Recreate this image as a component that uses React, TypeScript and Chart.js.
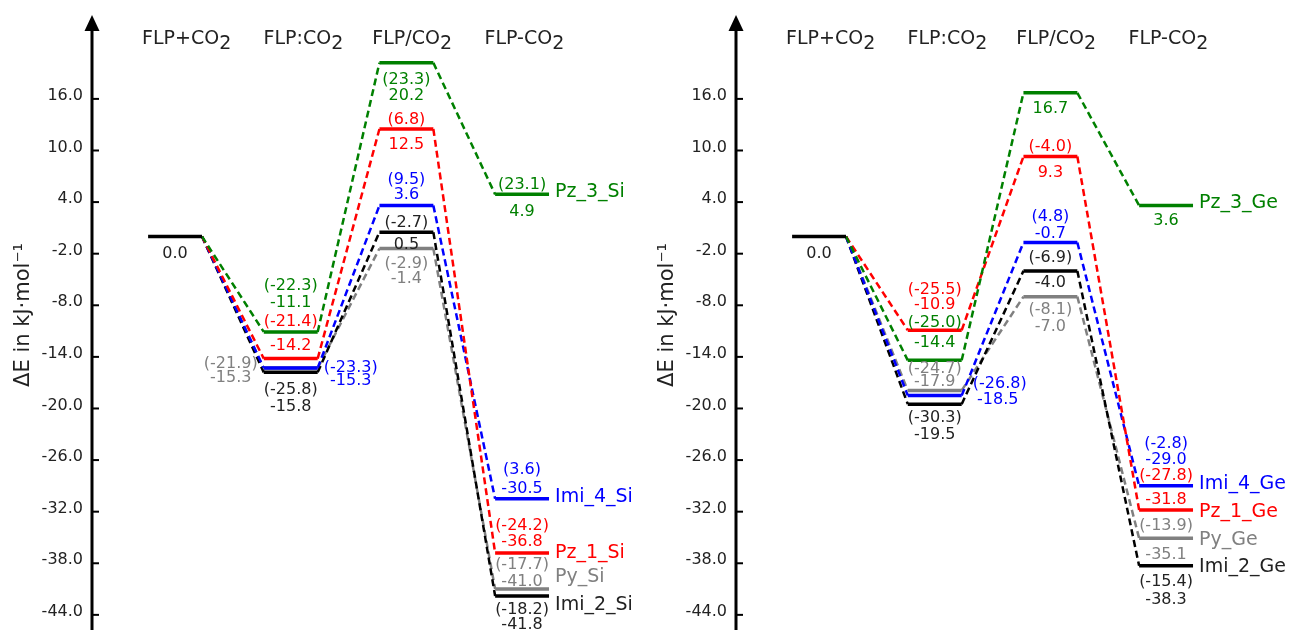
import { useEffect, useRef } from 'react';
import { Chart, registerables } from 'chart.js';

Chart.register(...registerables);

// ---------- data ----------
const stages = ['FLP+CO2', 'FLP:CO2', 'FLP/CO2', 'FLP-CO2'];
const yTickValues = [16, 10, 4, -2, -8, -14, -20, -26, -32, -38, -44];
const yAxisTitle = 'ΔE in kJ·mol⁻¹';

// Si panel
const siNames = ['Pz_3_Si', 'Pz_1_Si', 'Imi_4_Si', 'Imi_2_Si', 'Py_Si'];
const siPz3 = [0, -11.1, 20.2, 4.9];
const siPz3Paren = [null, -22.3, 23.3, 23.1];
const siPz1 = [0, -14.2, 12.5, -36.8];
const siPz1Paren = [null, -21.4, 6.8, -24.2];
const siImi4 = [0, -15.3, 3.6, -30.5];
const siImi4Paren = [null, -23.3, 9.5, 3.6];
const siImi2 = [0, -15.8, 0.5, -41.8];
const siImi2Paren = [null, -25.8, -2.7, -18.2];
const siPy = [0, -15.3, -1.4, -41.0];
const siPyParen = [null, -21.9, -2.9, -17.7];

// Ge panel
const geNames = ['Pz_3_Ge', 'Pz_1_Ge', 'Imi_4_Ge', 'Imi_2_Ge', 'Py_Ge'];
const gePz3 = [0, -14.4, 16.7, 3.6];
const gePz3Paren = [null, -25.0, null, null];
const gePz1 = [0, -10.9, 9.3, -31.8];
const gePz1Paren = [null, -25.5, -4.0, -27.8];
const geImi4 = [0, -18.5, -0.7, -29.0];
const geImi4Paren = [null, -26.8, 4.8, -2.8];
const geImi2 = [0, -19.5, -4.0, -38.3];
const geImi2Paren = [null, -30.3, -6.9, -15.4];
const gePy = [0, -17.9, -7.0, -35.1];
const gePyParen = [null, -24.7, -8.1, -13.9];

// ---------- styles / layout ----------
const seriesColors = ['#008000', '#ff0000', '#0000ff', '#000000', '#808080'];
const FONT = '"DejaVu Sans", sans-serif';
const TEXT = '#222';
const HW = 0.233; // half width of a level, in stage units
const X_MIN = 0.282;
const X_MAX = 5.08;
const Y_MIN = -45.76;
const Y_MAX = 27.5;
const headerPos = [1.1, 2.11, 3.05, 4.02];

// label offsets per series, per stage 2..4: [parenDx, parenDy, valueDx, valueDy] (px)
const siOffsets = [
  [[0, -46, 0, -29], [0, 17, 0, 33], [0, -10, 0, 17]],
  [[0, -37, 0, -13], [0, -9, 0, 16], [0, -27, 0, -11]],
  [[60, 0, 60, 13], [0, -25.5, 0, -10.5], [0, -29, 0, -10]],
  [[0, 17, 0, 34], [0, -9, 0, 13], [0, 14, 0, 29]],
  [[-60, -4, -60, 10], [0, 15.5, 0, 30.5], [0, -24, 0, -7]],
];
const siNameDy = [-2, 0, -2, 9, -12];
const geOffsets = [
  [[0, -37.6, 0, -17], [0, 0, 0, 16], [0, 0, 0, 15.5]],
  [[0, -40, 0, -25], [0, -9.5, 0, 16], [0, -34, 0, -10]],
  [[65, -12, 63, 4.5], [0, -25.5, 0, -8.5], [0, -42, 0, -26]],
  [[0, 14, 0, 31], [0, -13, 0, 12], [0, 16, 0, 33.5]],
  [[0, -22, 0, -9], [0, 13.5, 0, 30], [0, -12, 0, 16.5]],
];
const geNameDy = [-2.5, 2, -1.5, 1, 1.5];

type PanelProps = {
  left: number;
  names: string[];
  values: number[][];
  parens: (number | null)[][];
  offsets: number[][][];
  nameDy: number[];
};

const fmt = (v: number) => v.toFixed(1);

function buildDatasets(values: number[][]) {
  const levels: any[] = [];
  const connectors: any[] = [];
  values.forEach((vals, si) => {
    const lvl: any[] = [];
    const con: any[] = [];
    vals.forEach((v, st) => {
      const c = st + 1;
      if (st > 0) lvl.push({ x: c - HW, y: v }, { x: c + HW, y: v }, { x: c + HW, y: null });
      if (st < vals.length - 1)
        con.push({ x: c + HW, y: v }, { x: c + 1 - HW, y: vals[st + 1] }, { x: c + 1 - HW, y: null });
    });
    levels.push({
      data: lvl,
      borderColor: seriesColors[si],
      borderWidth: 3.5,
      order: 10 + si,
    });
    connectors.push({
      data: con,
      borderColor: seriesColors[si],
      borderWidth: 2.5,
      borderDash: [7, 4],
      order: 30 + si,
    });
  });
  const base = {
    data: [
      { x: 1 - HW, y: values[0][0] },
      { x: 1 + HW, y: values[0][0] },
    ],
    borderColor: '#000',
    borderWidth: 3.5,
    order: 0,
  };
  return [base, ...levels, ...connectors].map((d) => ({
    ...d,
    pointRadius: 0,
    tension: 0,
    fill: false,
    spanGaps: false,
    borderCapStyle: 'butt',
  }));
}

function makePlugin(p: PanelProps) {
  return {
    id: 'energyDecor',
    afterDraw(chart: any) {
      const ctx = chart.ctx as CanvasRenderingContext2D;
      const xs = chart.scales.x;
      const ys = chart.scales.y;
      const ax = chart.chartArea.left;
      ctx.save();
      // axis with arrow
      ctx.strokeStyle = '#000';
      ctx.fillStyle = '#000';
      ctx.lineWidth = 3;
      ctx.beginPath();
      ctx.moveTo(ax, chart.chartArea.bottom);
      ctx.lineTo(ax, 28);
      ctx.stroke();
      ctx.beginPath();
      ctx.moveTo(ax, 15);
      ctx.lineTo(ax - 7.5, 31);
      ctx.lineTo(ax + 7.5, 31);
      ctx.closePath();
      ctx.fill();
      ctx.lineWidth = 2;
      yTickValues.forEach((v) => {
        const y = ys.getPixelForValue(v);
        ctx.beginPath();
        ctx.moveTo(ax, y);
        ctx.lineTo(ax + 7, y);
        ctx.stroke();
      });
      // stage headers
      ctx.font = `19px ${FONT}`;
      ctx.fillStyle = TEXT;
      ctx.textAlign = 'left';
      ctx.textBaseline = 'alphabetic';
      stages.forEach((s, i) => {
        const main = s.slice(0, -1);
        const sub = s.slice(-1);
        const w1 = ctx.measureText(main).width;
        const w2 = ctx.measureText(sub).width;
        const cx = xs.getPixelForValue(headerPos[i]);
        const x0 = cx - (w1 + w2) / 2;
        ctx.fillText(main, x0, 43.5);
        ctx.fillText(sub, x0 + w1, 48.5);
      });
      // base label
      ctx.font = `16px ${FONT}`;
      ctx.textAlign = 'center';
      ctx.textBaseline = 'middle';
      ctx.fillStyle = TEXT;
      ctx.fillText(fmt(p.values[0][0]), xs.getPixelForValue(1), ys.getPixelForValue(p.values[0][0]) + 17);
      // value labels
      p.values.forEach((vals, si) => {
        const col = si === 3 ? TEXT : seriesColors[si];
        ctx.fillStyle = col;
        for (let st = 1; st < vals.length; st++) {
          const cx = xs.getPixelForValue(st + 1);
          const y = ys.getPixelForValue(vals[st]);
          const off = p.offsets[si][st - 1];
          const pv = p.parens[si][st];
          if (pv !== null && pv !== undefined) ctx.fillText(`(${fmt(pv)})`, cx + off[0], y + off[1]);
          ctx.fillText(fmt(vals[st]), cx + off[2], y + off[3]);
        }
      });
      // series names
      ctx.font = `19px ${FONT}`;
      ctx.textAlign = 'left';
      p.values.forEach((vals, si) => {
        ctx.fillStyle = si === 3 ? TEXT : seriesColors[si];
        const last = vals.length - 1;
        const x = xs.getPixelForValue(last + 1 + HW) + 6;
        const y = ys.getPixelForValue(vals[last]) + p.nameDy[si];
        ctx.fillText(p.names[si], x, y);
      });
      ctx.restore();
    },
  };
}

function Panel(p: PanelProps) {
  const ref = useRef<HTMLCanvasElement>(null);
  useEffect(() => {
    if (!ref.current) return;
    const chart = new Chart(ref.current, {
      type: 'line',
      data: { datasets: buildDatasets(p.values) as any },
      options: {
        animation: false,
        responsive: false,
        devicePixelRatio: 1,
        events: [],
        layout: { padding: 0 },
        plugins: { legend: { display: false }, tooltip: { enabled: false } },
        scales: {
          x: { type: 'linear', display: false, min: X_MIN, max: X_MAX },
          y: {
            type: 'linear',
            position: 'left',
            min: Y_MIN,
            max: Y_MAX,
            afterBuildTicks: (scale: any) => {
              scale.ticks = yTickValues.map((v) => ({ value: v }));
            },
            afterFit: (scale: any) => {
              scale.width = 92;
              scale.paddingTop = 0;
              scale.paddingBottom = 0;
            },
            grid: { display: false, drawTicks: false },
            border: { display: false },
            ticks: {
              padding: 9,
              labelOffset: -3,
              color: TEXT,
              font: { family: FONT, size: 16 },
              callback: (v: any) => Number(v).toFixed(1),
            },
            title: {
              display: true,
              text: yAxisTitle,
              color: TEXT,
              font: { family: FONT, size: 21 },
              padding: { top: 11, bottom: 0 },
            },
          },
        },
      } as any,
      plugins: [makePlugin(p)],
    });
    return () => chart.destroy();
  }, []);
  return (
    <canvas
      ref={ref}
      width={647}
      height={630}
      style={{ position: 'absolute', left: p.left, top: 0, width: 647, height: 630 }}
    />
  );
}

export default function App() {
  return (
    <div style={{ position: 'fixed', left: 0, top: 0, width: 1294, height: 630, background: '#fff' }}>
      <Panel
        left={0}
        names={siNames}
        values={[siPz3, siPz1, siImi4, siImi2, siPy]}
        parens={[siPz3Paren, siPz1Paren, siImi4Paren, siImi2Paren, siPyParen]}
        offsets={siOffsets}
        nameDy={siNameDy}
      />
      <Panel
        left={644}
        names={geNames}
        values={[gePz3, gePz1, geImi4, geImi2, gePy]}
        parens={[gePz3Paren, gePz1Paren, geImi4Paren, geImi2Paren, gePyParen]}
        offsets={geOffsets}
        nameDy={geNameDy}
      />
    </div>
  );
}
